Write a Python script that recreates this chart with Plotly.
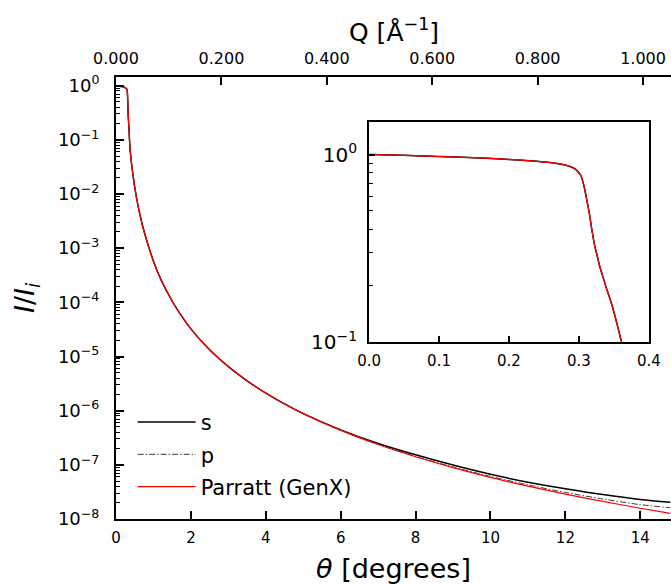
import plotly.graph_objects as go

# ---------------- data ----------------
theta_deg = [0.0, 0.05, 0.10, 0.15, 0.20, 0.24, 0.26, 0.28, 0.29, 0.295, 0.30, 0.303,
             0.306, 0.309, 0.312, 0.315, 0.318, 0.322, 0.326, 0.33, 0.335, 0.34, 0.345,
             0.35, 0.355, 0.36, 0.37, 0.38, 0.40, 0.42, 0.45, 0.50, 0.55, 0.60, 0.70,
             0.80, 0.90, 1.0, 1.2, 1.4, 1.6, 2.0, 2.5, 3.0, 3.5, 4.0, 4.5, 5.0, 6.0,
             7.0, 8.0, 9.0, 10.0, 11.0, 12.0, 13.0, 14.0, 14.8]

# reflectivity common to the three curves below 6 degrees
refl_low = [1.00, 0.99, 0.976, 0.962, 0.942, 0.92, 0.905, 0.88, 0.855, 0.835, 0.80, 0.77,
            0.71, 0.635, 0.555, 0.485, 0.41, 0.335, 0.29, 0.252, 0.219, 0.1905, 0.168,
            0.145, 0.123, 0.1035, 0.0776, 0.063, 0.0452, 0.0343, 0.0233, 0.0134, 8.4e-3,
            5.56e-3, 2.76e-3, 1.54e-3, 9.3e-4, 5.75e-4, 2.63e-4, 1.41e-4, 8.1e-5, 3.24e-5,
            1.33e-5, 6.52e-6, 3.56e-6, 2.11e-6, 1.33e-6, 8.83e-7]

refl_s = refl_low + [4.42e-7, 2.48e-7, 1.53e-7, 9.89e-8, 6.68e-8, 4.79e-8, 3.63e-8,
                     2.82e-8, 2.29e-8, 2.04e-8]
refl_p = refl_low + [4.37e-7, 2.40e-7, 1.43e-7, 9.12e-8, 6.10e-8, 4.27e-8, 3.09e-8,
                     2.34e-8, 1.84e-8, 1.62e-8]
refl_parratt = refl_low + [4.33e-7, 2.37e-7, 1.41e-7, 8.87e-8, 5.87e-8, 4.05e-8, 2.88e-8,
                           2.11e-8, 1.58e-8, 1.27e-8]

series_names = ["s", "p", "Parratt (GenX)"]

# tick labels
x_tick_vals = [0, 2, 4, 6, 8, 10, 12, 14]
q_tick_vals = [0.0, 0.2, 0.4, 0.6, 0.8, 1.0]
q_tick_text = ["0.000", "0.200", "0.400", "0.600", "0.800", "1.000"]
y_tick_vals = [1e0, 1e-1, 1e-2, 1e-3, 1e-4, 1e-5, 1e-6, 1e-7, 1e-8]
y_tick_text = ["10<sup>0</sup>", "10<sup>−1</sup>", "10<sup>−2</sup>", "10<sup>−3</sup>",
               "10<sup>−4</sup>", "10<sup>−5</sup>", "10<sup>−6</sup>", "10<sup>−7</sup>",
               "10<sup>−8</sup>"]
inset_x_vals = [0.0, 0.1, 0.2, 0.3, 0.4]
inset_x_text = ["0.0", "0.1", "0.2", "0.3", "0.4"]
inset_y_vals = [1e0, 1e-1]
inset_y_text = ["10<sup>0</sup>", "10<sup>−1</sup>"]

x_title = "<i>θ</i> [degrees]"
q_title = "Q [Å<sup>−1</sup>]"
y_title = "<i>I</i>/<i>I</i><sub><i>i</i></sub>"

main_minor = [m * 10.0 ** e for e in range(-8, 1) for m in range(2, 10)]
inset_minor = [m * 0.1 for m in range(2, 10)]

# ---------------- figure ----------------
styles = [dict(color="black", width=1.5),
          dict(color="#3a3a3a", width=1.0, dash="6px,2px,1.5px,2px"),
          dict(color="#ff0000", width=1.2)]
data = [refl_s, refl_p, refl_parratt]

fig = go.Figure()
for name, r, st in zip(series_names, data, styles):
    fig.add_trace(go.Scatter(x=theta_deg, y=r, mode="lines", name=name,
                             line=dict(shape="spline", smoothing=0.8, **st),
                             xaxis="x", yaxis="y", legendgroup=name, hoverinfo="skip"))
for name, r, st in zip(series_names, data, styles):
    fig.add_trace(go.Scatter(x=theta_deg, y=r, mode="lines", name=name, showlegend=False,
                             line=dict(shape="spline", smoothing=0.8, **st),
                             xaxis="x3", yaxis="y3", hoverinfo="skip"))
# empty trace so that the top (Q) axis is created
fig.add_trace(go.Scatter(x=q_tick_vals, y=[None] * len(q_tick_vals), mode="lines",
                         showlegend=False, xaxis="x2", yaxis="y", hoverinfo="skip"))

FONT = "DejaVu Sans"
axis_common = dict(showgrid=False, zeroline=False, showline=True, linecolor="black",
                   linewidth=2, ticks="inside", tickcolor="black", tickwidth=1.5,
                   automargin=False)

fig.update_layout(
    template="none",
    width=671, height=584,
    margin=dict(l=116, r=0, t=77, b=65, pad=0),
    paper_bgcolor="white", plot_bgcolor="white",
    font=dict(family=FONT, color="black"),
    xaxis=dict(range=[0, 14.82], tickmode="array", tickvals=x_tick_vals, ticklen=8,
               tickfont=dict(size=15), ticklabelstandoff=4,
               title=dict(text=x_title, font=dict(size=27), standoff=14),
               anchor="y", **axis_common),
    xaxis2=dict(range=[0, 1.053], overlaying="x", side="top", anchor="y",
                tickmode="array", tickvals=q_tick_vals, ticktext=q_tick_text, ticklen=8,
                tickfont=dict(size=16), ticklabelstandoff=5, **axis_common),
    yaxis=dict(type="log", range=[-8, 0.16], tickmode="array", tickvals=y_tick_vals,
               ticktext=y_tick_text, ticklen=8, tickfont=dict(size=18), ticklabelstandoff=11,
               minor=dict(tickmode="array", tickvals=main_minor, ticks="inside", ticklen=4,
                          tickwidth=1, tickcolor="black", showgrid=False),
               anchor="x", **axis_common),
    xaxis3=dict(domain=[0.456, 0.960], anchor="y3", range=[0, 0.4], tickmode="array",
                tickvals=inset_x_vals, ticktext=inset_x_text, ticklen=6, mirror=True,
                tickfont=dict(size=15), ticklabelstandoff=4, **axis_common),
    yaxis3=dict(domain=[0.4005, 0.898], anchor="x3", type="log", range=[-1, 0.173],
                tickmode="array", tickvals=inset_y_vals, ticktext=inset_y_text, ticklen=6,
                mirror=True, tickfont=dict(size=20), ticklabelstandoff=6,
                minor=dict(tickmode="array", tickvals=inset_minor, ticks="inside", ticklen=4,
                           tickwidth=1, tickcolor="black", showgrid=False),
                **axis_common),
    legend=dict(x=0.03, y=0.265, xanchor="left", yanchor="top", bgcolor="rgba(0,0,0,0)",
                font=dict(size=21, family=FONT), itemwidth=58, tracegroupgap=2,
                borderwidth=0),
    showlegend=True,
    annotations=[
        dict(text=q_title, xref="paper", yref="paper", x=0.5, y=1, xanchor="center",
             yanchor="middle", yshift=47, showarrow=False, font=dict(size=25)),
        dict(text=y_title, xref="paper", yref="paper", x=0, y=0.5, xanchor="center",
             yanchor="middle", xshift=-90, textangle=-90, showarrow=False,
             font=dict(size=27)),
    ],
)

fig.write_html("out.html")
